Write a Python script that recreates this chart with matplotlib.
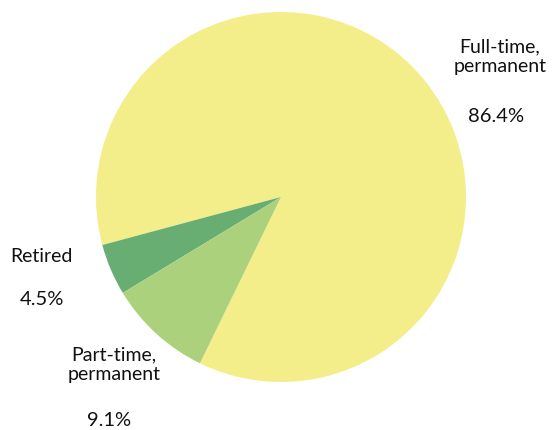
import numpy as np
import matplotlib
matplotlib.use("Agg")
import matplotlib.pyplot as plt

categories = ["Full-time,\npermanent", "Retired", "Part-time,\npermanent"]
shares = [86.4, 4.5, 9.1]
colors = ["#F3EE8A", "#68AE72", "#ABD17C"]

# where the texts sit (data units, pie radius = 1)
label_pos = [(1.184, 0.762), (-1.297, -0.314), (-0.903, -0.903)]
pct_pos = [(1.162, 0.443), (-1.292, -0.551), (-0.930, -1.205)]

plt.rcParams["font.family"] = ["Lato", "DejaVu Sans"]

fig = plt.figure(figsize=(5.53, 4.31), dpi=100)
ax = fig.add_axes([0, 0, 1, 1])

ax.pie(shares, colors=colors, startangle=244, counterclock=True,
       wedgeprops=dict(linewidth=0))

for name, val, lp, pp in zip(categories, shares, label_pos, pct_pos):
    ax.text(lp[0], lp[1], name, ha="center", va="center", fontsize=14,
            linespacing=1.2, color="#111111")
    ax.text(pp[0], pp[1], f"{val:.1f}%", ha="center", va="center",
            fontsize=14.5, color="#111111")

ax.set_xlim(-281 / 185, (553 - 281) / 185)
ax.set_ylim(-(431 - 198) / 185, 198 / 185)
ax.set_aspect("equal")
ax.axis("off")

fig.savefig("out.png", dpi=100)
